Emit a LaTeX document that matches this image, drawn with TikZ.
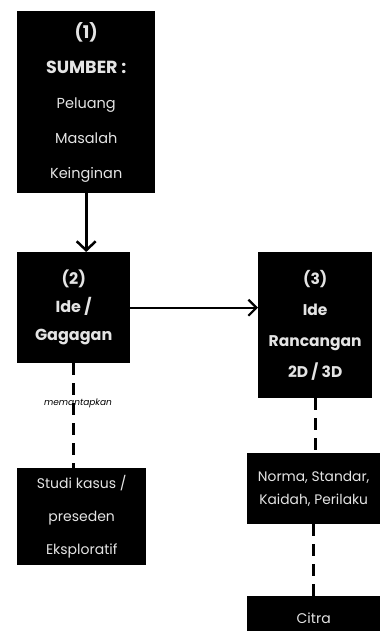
\documentclass[tikz,border=0pt]{standalone}
\usepackage{fontspec}
\setmainfont{Poppins}
\usetikzlibrary{arrows.meta,positioning}
\definecolor{boxtext}{RGB}{228,228,228}

\begin{document}
\begin{tikzpicture}[x=1pt,y=1pt,
    box/.style={fill=black,text=boxtext,align=center,inner sep=0pt,anchor=north west},
    arrow/.style={-{Straight Barb[length=9pt,width=19pt,line width=2.5pt]},line width=2.8pt},
    link/.style={line width=2.6pt,dash pattern=on 12pt off 8pt}
  ]
    \useasboundingbox (0,0) rectangle (380,-631);
    \node[box,minimum width=138pt,minimum height=182pt,font=\fontsize{14.5}{35}\selectfont] (sumber) at (17,-11)
      {{\fontsize{17.5}{35}\selectfont\bfseries (1)}\\{\fontsize{17.5}{35}\selectfont\bfseries SUMBER :}\\Peluang\\Masalah\\Keinginan};
    \node[box,minimum width=113pt,minimum height=111pt,font=\fontsize{16}{28}\selectfont\bfseries] (ide) at (17,-252)
      {(2)\\Ide /\\Gagagan};
    \node[box,minimum width=114pt,minimum height=146pt,font=\fontsize{15.5}{31}\selectfont\bfseries] (rancangan) at (258,-252)
      {(3)\\Ide\\Rancangan\\2D / 3D};
    \node[box,minimum width=129pt,minimum height=97pt,font=\fontsize{14}{33}\selectfont] (studi) at (17,-468)
      {Studi kasus /\\preseden\\Eksploratif};
    \node[box,minimum width=133pt,minimum height=71pt,font=\fontsize{13.8}{23}\selectfont] (norma) at (247,-453)
      {Norma, Standar,\\Kaidah, Perilaku};
    \node[box,minimum width=133pt,minimum height=45pt,font=\fontsize{14}{23}\selectfont] (citra) at (247,-596)
      {Citra};
    \node[font=\fontsize{9}{9}\selectfont\itshape] (mantap) at (78,-403) {memantapkan};

    \draw[arrow] (sumber.south) -- (sumber.south |- ide.north);
    \draw[arrow,line width=2.2pt,-{Straight Barb[length=8pt,width=16pt,line width=2.2pt]}] (ide.east) -- (ide.east -| rancangan.west);
    \draw[link] (ide.south) -- (ide.south |- studi.north);
    \draw[link] (rancangan.south) -- (rancangan.south |- norma.north);
    \draw[link] (norma.south) -- (norma.south |- citra.north);
\end{tikzpicture}
\end{document}
